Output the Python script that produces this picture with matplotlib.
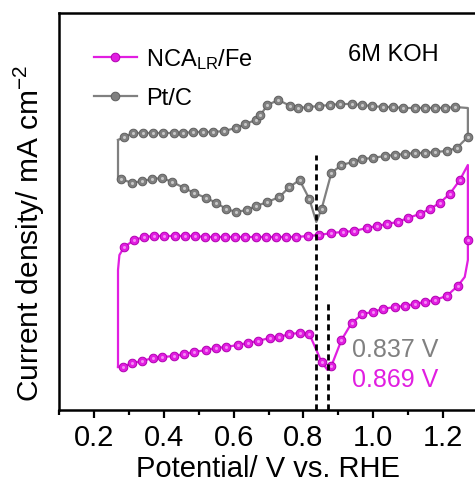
import matplotlib
matplotlib.use("Agg")
import matplotlib.pyplot as plt
from matplotlib.lines import Line2D

plt.rcParams['font.family'] = ['Liberation Sans', 'DejaVu Sans']
plt.rcParams['mathtext.fontset'] = 'custom'
plt.rcParams['mathtext.rm'] = 'Liberation Sans'
plt.rcParams['mathtext.it'] = 'Liberation Sans:italic'
plt.rcParams['mathtext.default'] = 'regular'

# ---- Pt/C cyclic voltammogram (potential in V vs. RHE, current in a.u.) ----
# anodic sweep (left -> right); first and last points are the unmarked turning corners
ptc_fwd_v = [0.269, 0.287, 0.312, 0.341, 0.370, 0.399, 0.428, 0.456, 0.485, 0.513,
             0.542, 0.573, 0.606, 0.634, 0.663, 0.677, 0.697, 0.728, 0.763, 0.785,
             0.814, 0.846, 0.875, 0.904, 0.938, 0.967, 0.996, 1.027, 1.056, 1.085,
             1.119, 1.148, 1.176, 1.205, 1.234, 1.271]
ptc_fwd_j = [27.0, 27.3, 27.7, 27.7, 27.7, 27.7, 27.7, 27.7, 27.8, 27.8,
             27.8, 27.9, 28.2, 28.6, 29.0, 29.5, 30.5, 31.0, 30.4, 30.2,
             30.3, 30.4, 30.5, 30.6, 30.6, 30.5, 30.4, 30.3, 30.3, 30.2,
             30.2, 30.2, 30.2, 30.2, 30.3, 30.2]
# cathodic sweep (right -> left); the 0.837 V point is the ORR peak tip
ptc_rev_v = [1.271, 1.239, 1.210, 1.176, 1.147, 1.119, 1.090, 1.061, 1.033, 0.998,
             0.969, 0.941, 0.909, 0.880, 0.852, 0.837, 0.817, 0.789, 0.760, 0.731,
             0.697, 0.665, 0.637, 0.608, 0.579, 0.551, 0.522, 0.487, 0.459, 0.424,
             0.396, 0.367, 0.338, 0.309, 0.278, 0.269, 0.269]
ptc_rev_j = [27.3, 26.2, 25.9, 25.8, 25.7, 25.7, 25.6, 25.5, 25.4, 25.2,
             25.1, 24.8, 24.5, 23.7, 20.1, 18.8, 21.1, 23.0, 22.3, 21.3,
             20.8, 20.4, 20.0, 19.8, 20.1, 20.7, 21.2, 21.7, 22.2, 22.8,
             23.2, 23.1, 22.9, 22.7, 23.1, 23.0, 27.0]

# ---- NCA_LR/Fe cyclic voltammogram ----
nca_fwd_v = [0.269, 0.269, 0.273, 0.287, 0.315, 0.344, 0.373, 0.402, 0.431, 0.460,
             0.489, 0.518, 0.547, 0.576, 0.605, 0.634, 0.663, 0.692, 0.721, 0.750,
             0.779, 0.812, 0.846, 0.880, 0.912, 0.946, 0.981, 1.010, 1.038, 1.070,
             1.099, 1.133, 1.162, 1.190, 1.219, 1.248, 1.271]
nca_fwd_j = [4.3, 14.0, 15.5, 16.3, 17.0, 17.3, 17.4, 17.4, 17.4, 17.4,
             17.4, 17.3, 17.3, 17.3, 17.3, 17.3, 17.3, 17.3, 17.3, 17.3,
             17.3, 17.4, 17.5, 17.7, 17.8, 17.9, 18.2, 18.4, 18.6, 18.8,
             19.2, 19.6, 20.1, 20.7, 21.6, 23.0, 24.5]
# cathodic sweep; the 0.869 V point is the ORR peak tip
nca_rev_v = [1.271, 1.271, 1.271, 1.262, 1.242, 1.210, 1.176, 1.147, 1.119, 1.090,
             1.061, 1.027, 0.998, 0.969, 0.938, 0.909, 0.880, 0.869, 0.852, 0.817,
             0.789, 0.760, 0.731, 0.703, 0.669, 0.640, 0.612, 0.578, 0.550, 0.521,
             0.487, 0.459, 0.430, 0.396, 0.368, 0.339, 0.310, 0.282, 0.269]
nca_rev_j = [24.5, 17.0, 15.0, 13.3, 12.4, 11.4, 11.0, 10.8, 10.6, 10.4,
             10.3, 10.1, 9.8, 9.6, 8.7, 7.0, 4.4, 4.0, 4.8, 7.6,
             7.7, 7.6, 7.3, 7.2, 6.9, 6.7, 6.5, 6.3, 6.2, 6.0,
             5.8, 5.6, 5.4, 5.3, 5.2, 4.9, 4.7, 4.3, 4.3]

peak_ptc = 0.837
peak_nca = 0.869
peak_ptc_top = 25.5
peak_nca_top = 11.0

x_ticks = [0.2, 0.4, 0.6, 0.8, 1.0, 1.2]

MAGENTA = '#e11ee1'
MAGENTA_EDGE = '#b000b0'
MAGENTA_HI = '#f58af5'
GRAY = '#808080'
GRAY_EDGE = '#5e5e5e'
GRAY_HI = '#c8c8c8'

fig = plt.figure(figsize=(4.75, 4.84), dpi=100)
ax = fig.add_axes([59 / 475, 74 / 484, 419 / 475, 397 / 484])


def unmarked(vs, corners):
    return [i for i in range(len(vs)) if i not in corners]


def draw_cv(v_f, j_f, v_r, j_r, mk_f, mk_r, color, edge, hi, label):
    v = v_f + v_r
    j = j_f + j_r
    ax.plot(v, j, '-', color=color, lw=1.6, zorder=3)
    mv = [v_f[i] for i in mk_f] + [v_r[i] for i in mk_r]
    mj = [j_f[i] for i in mk_f] + [j_r[i] for i in mk_r]
    ax.plot(mv, mj, 'o', ls='none', ms=6.2, mfc=color, mec=edge, mew=0.7, zorder=4)
    ax.plot(mv, mj, 'o', ls='none', ms=2.2, mfc=hi, mec='none', zorder=5)
    return Line2D([], [], color=color, lw=1.6, marker='o', ms=6.2, mfc=color,
                  mec=edge, mew=0.7, label=label)


h_nca = draw_cv(nca_fwd_v, nca_fwd_j, nca_rev_v, nca_rev_j,
                unmarked(nca_fwd_v, {0, 1, 2, len(nca_fwd_v) - 1}),
                unmarked(nca_rev_v, {0, 2, 3, 17, len(nca_rev_v) - 1}),
                MAGENTA, MAGENTA_EDGE, MAGENTA_HI, r'NCA$_{LR}$/Fe')
h_ptc = draw_cv(ptc_fwd_v, ptc_fwd_j, ptc_rev_v, ptc_rev_j,
                unmarked(ptc_fwd_v, {0, len(ptc_fwd_v) - 1}),
                unmarked(ptc_rev_v, {15, len(ptc_rev_v) - 2, len(ptc_rev_v) - 1}),
                GRAY, GRAY_EDGE, GRAY_HI, 'Pt/C')

# peak markers
ax.vlines(peak_ptc, 0, peak_ptc_top, colors='black', lw=2.0,
          linestyles=(0, (2.2, 1.4)), zorder=6)
ax.vlines(peak_nca, 0, peak_nca_top, colors='black', lw=2.0,
          linestyles=(0, (2.2, 1.4)), zorder=6)

ax.text(0.699, 0.151, f'{peak_ptc:.3f} V', transform=ax.transAxes, fontsize=18,
        color=GRAY, ha='left', va='center')
ax.text(0.699, 0.076, f'{peak_nca:.3f} V', transform=ax.transAxes, fontsize=18,
        color=MAGENTA, ha='left', va='center')
ax.text(0.689, 0.895, '6M KOH', transform=ax.transAxes, fontsize=17,
        color='black', ha='left', va='center')

leg = ax.legend(handles=[h_nca, h_ptc], loc='upper left',
                bbox_to_anchor=(0.084, 0.915), frameon=False, fontsize=17,
                handlelength=1.8, handletextpad=0.4, labelspacing=0.68,
                borderpad=0, borderaxespad=0)

ax.set_xlim(0.1, 1.3)
ax.set_ylim(0, 39.7)
ax.set_xticks(x_ticks)
ax.set_xticklabels([f'{t:.1f}' for t in x_ticks])
ax.set_xticks([0.1, 0.3, 0.5, 0.7, 0.9, 1.1, 1.3], minor=True)
ax.set_yticks([])
ax.tick_params(axis='x', which='major', direction='out', length=6, width=1.6,
               labelsize=21, pad=4)
ax.tick_params(axis='x', which='minor', direction='out', length=3.5, width=1.6)
for s in ax.spines.values():
    s.set_linewidth(1.8)

ax.set_xlabel('Potential/ V vs. RHE', fontsize=21, labelpad=2)
ax.set_ylabel(r'Current density/ mA cm$^{-2}$', fontsize=21.5)
ax.yaxis.set_label_coords(-0.028, 0.445)

fig.savefig('out.png', dpi=100)
